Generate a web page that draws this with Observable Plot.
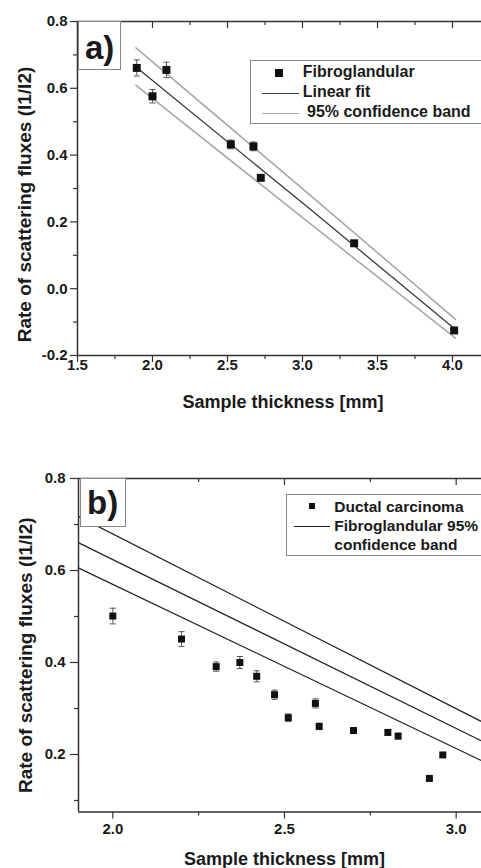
<!DOCTYPE html>
<html>
<head>
<meta charset="utf-8">
<script src="https://cdn.jsdelivr.net/npm/d3@7"></script>
<script src="https://cdn.jsdelivr.net/npm/@observablehq/plot@0.6"></script>
<style>
  html, body { margin: 0; padding: 0; overflow: hidden; background: #fff; }
  #wrap { position: relative; width: 481px; height: 868px; overflow: hidden; background: #fff;
          font-family: "Liberation Sans", Arial, sans-serif; font-weight: bold; color: #1a1a1a; }
  .abs { position: absolute; white-space: nowrap; line-height: 1; }
  .tag { position: absolute; background: #fff; border: 1px solid #888; box-sizing: border-box; }
  .legend { position: absolute; background: #fff; border: 1px solid #888; box-sizing: border-box; }
  #wrap svg { max-width: none !important; }
</style>
</head>
<body>
<div id="wrap">
  <div id="pa" class="abs" style="left:0;top:0"></div>
  <div id="pb" class="abs" style="left:0;top:440px"></div>

  <div class="tag" style="left:78px;top:21px;width:43px;height:49px"></div>
  <div class="abs" style="left:85px;top:31.4px;font-size:33px">a)</div>

  <div class="legend" style="left:250px;top:60px;width:260px;height:64px"></div>
  <div class="abs" style="left:275px;top:68.7px;width:8px;height:8px;background:#111"></div>
  <div class="abs" style="left:302.7px;top:63.8px;font-size:16px">Fibroglandular</div>
  <div class="abs" style="left:262px;top:92.5px;width:37px;height:1.5px;background:#3a3a3a"></div>
  <div class="abs" style="left:302.7px;top:83.8px;font-size:16px">Linear fit</div>
  <div class="abs" style="left:262px;top:112.5px;width:37px;height:1.5px;background:#a8a8a8"></div>
  <div class="abs" style="left:307px;top:103.8px;font-size:16px">95% confidence band</div>

  <div class="tag" style="left:80px;top:478px;width:46px;height:49px"></div>
  <div class="abs" style="left:87px;top:486.4px;font-size:33px">b)</div>

  <div class="legend" style="left:286px;top:494px;width:260px;height:62px"></div>
  <div class="abs" style="left:309.3px;top:503px;width:6px;height:6px;background:#111"></div>
  <div class="abs" style="left:334.3px;top:498.6px;font-size:15.5px">Ductal carcinoma</div>
  <div class="abs" style="left:294px;top:526px;width:36px;height:1.3px;background:#222"></div>
  <div class="abs" style="left:334.3px;top:517.9px;font-size:15.5px">Fibroglandular 95%</div>
  <div class="abs" style="left:334.3px;top:536.9px;font-size:15.5px">confidence band</div>
</div>
<script>
// ---- Data ----
const fibroX   = [1.895, 2.0, 2.093, 2.522, 2.673, 2.722, 3.344, 4.011];
const fibroY   = [0.661, 0.576, 0.655, 0.432, 0.426, 0.332, 0.136, -0.125];
const fibroErr = [0.024, 0.020, 0.023, 0.013, 0.013, 0.008, 0.006, 0.005];

const bandX     = [1.89, 3.07, 4.02];
const bandUpper = [0.721, 0.273, -0.092];
const bandFit   = [0.664, 0.231, -0.122];
const bandLower = [0.609, 0.188, -0.148];

const ductalX   = [2.0, 2.2, 2.301, 2.37, 2.419, 2.471, 2.511, 2.59, 2.601, 2.701, 2.801, 2.831, 2.922, 2.961];
const ductalY   = [0.501, 0.451, 0.391, 0.400, 0.370, 0.330, 0.280, 0.311, 0.261, 0.252, 0.248, 0.240, 0.148, 0.199];
const ductalErr = [0.017, 0.016, 0.010, 0.013, 0.012, 0.010, 0.008, 0.010, 0.007, 0.006, 0.006, 0.006, 0.005, 0.005];

const xMajorA = [1.5, 2.0, 2.5, 3.0, 3.5, 4.0];
const xMinorA = [1.75, 2.25, 2.75, 3.25, 3.75];
const yMajorA = [-0.2, 0.0, 0.2, 0.4, 0.6, 0.8];
const yMinorA = [-0.1, 0.1, 0.3, 0.5, 0.7];

const xMajorB = [2.0, 2.5, 3.0];
const xMinorB = [2.25, 2.75];
const yMajorB = [0.2, 0.4, 0.6, 0.8];
const yMinorB = [0.1, 0.3, 0.5, 0.7];

const xTitle = "Sample thickness [mm]";
const yTitle = "Rate of scattering fluxes (I1/I2)";

// ---- Tables ----
const fibro = fibroX.map((x, i) => ({x, y: fibroY[i], e: fibroErr[i]}));
const ductal = ductalX.map((x, i) => ({x, y: ductalY[i], e: ductalErr[i]}));
const band = bandX.map((x, i) => ({x, upper: bandUpper[i], fit: bandFit[i], lower: bandLower[i]}));

const cap = {draw(ctx) { ctx.moveTo(-3, 0); ctx.lineTo(3, 0); }};
const fmt = d => d.toFixed(1);
const AX = "#333";
const font = "'Liberation Sans', Arial, sans-serif";
const lab = {fontSize: 15, fontWeight: "bold", fill: "#1a1a1a"};

function frameRules(xd, yd) {
  return [
    Plot.ruleY([yd[0]], {stroke: AX, strokeWidth: 1.5}),
    Plot.ruleY([yd[1]], {stroke: AX, strokeWidth: 1.5}),
    Plot.ruleX([xd[0]], {stroke: AX, strokeWidth: 1.5}),
    Plot.ruleX([xd[1]], {stroke: AX, strokeWidth: 1.5})
  ];
}

function axes(xMaj, xMin, yMaj, yMin, ph, xLabDy, yLabDx, yTick) {
  return [
    Plot.tickX(xMaj, {x: d => d, insetBottom: ph - 7, stroke: AX, strokeWidth: 1.2}),
    Plot.tickX(xMin, {x: d => d, insetBottom: ph - 4, stroke: AX, strokeWidth: 1.2}),
    Plot.axisX(xMaj, {anchor: "bottom", tickSize: 7, tickFormat: () => "", label: null, strokeWidth: 1.2, stroke: AX}),
    Plot.axisX(xMin, {anchor: "bottom", tickSize: 4, tickFormat: () => "", label: null, strokeWidth: 1.2, stroke: AX}),
    Plot.axisY(yMaj, {anchor: "left", tickSize: yTick, tickFormat: () => "", label: null, strokeWidth: 1.2, stroke: AX}),
    Plot.axisY(yMin, {anchor: "left", tickSize: 4, tickFormat: () => "", label: null, strokeWidth: 1.2, stroke: AX}),
    Plot.text(xMaj, {x: d => d, text: fmt, frameAnchor: "bottom", lineAnchor: "top", textAnchor: "middle", dy: xLabDy, ...lab}),
    Plot.text(yMaj, {y: d => d, text: fmt, frameAnchor: "left", lineAnchor: "middle", textAnchor: "end", dx: yLabDx, ...lab})
  ];
}

// ---- Panel a ----
{
  const xd = [1.5, 4.2], yd = [-0.2, 0.8];
  const H = 420, mt = 21, mb = 65, ph = H - mt - mb;
  const chart = Plot.plot({
    width: 492, height: H, marginLeft: 77, marginRight: 10, marginTop: mt, marginBottom: mb,
    x: {domain: xd}, y: {domain: yd},
    style: {fontFamily: font, fontSize: "15px", fontWeight: "bold", color: "#1a1a1a", background: "transparent", overflow: "visible"},
    marks: [
      Plot.line(band, {x: "x", y: "upper", stroke: "#a8a8a8", strokeWidth: 1.6}),
      Plot.line(band, {x: "x", y: "lower", stroke: "#a8a8a8", strokeWidth: 1.6}),
      Plot.line(band, {x: "x", y: "fit", stroke: "#3a3a3a", strokeWidth: 1.3}),
      Plot.ruleX(fibro, {x: "x", y1: d => d.y - d.e, y2: d => d.y + d.e, stroke: "#555", strokeWidth: 1}),
      Plot.dot(fibro, {x: "x", y: d => d.y + d.e, symbol: cap, fill: "none", stroke: "#555", strokeWidth: 1}),
      Plot.dot(fibro, {x: "x", y: d => d.y - d.e, symbol: cap, fill: "none", stroke: "#555", strokeWidth: 1}),
      Plot.dot(fibro, {x: "x", y: "y", symbol: "square", r: 4.5, fill: "#111", stroke: "none"}),
      ...frameRules(xd, yd),
      ...axes(xMajorA, xMinorA, yMajorA, yMinorA, ph, 4, -10, 7),
      Plot.text([xTitle], {frameAnchor: "bottom", textAnchor: "middle", lineAnchor: "middle", dy: 47, dx: 3, fontSize: 18, fontWeight: "bold"}),
      Plot.text([yTitle], {frameAnchor: "left", textAnchor: "middle", lineAnchor: "middle", rotate: -90, dx: -53, dy: 16, fontSize: 19, fontWeight: "bold"})
    ]
  });
  document.getElementById("pa").append(chart);
}

// ---- Panel b ----
{
  const xd = [1.9, 3.1], yd = [0.075, 0.8];
  const H = 428, mt = 38, mb = 56.5, ph = H - mt - mb;
  const chart = Plot.plot({
    width: 500, height: H, marginLeft: 78, marginRight: 10, marginTop: mt, marginBottom: mb,
    x: {domain: xd}, y: {domain: yd},
    style: {fontFamily: font, fontSize: "15px", fontWeight: "bold", color: "#1a1a1a", background: "transparent", overflow: "visible"},
    marks: [
      Plot.line(band, {x: "x", y: "upper", stroke: "#222", strokeWidth: 1.3, clip: true}),
      Plot.line(band, {x: "x", y: "fit", stroke: "#222", strokeWidth: 1.3, clip: true}),
      Plot.line(band, {x: "x", y: "lower", stroke: "#222", strokeWidth: 1.3, clip: true}),
      Plot.ruleX(ductal, {x: "x", y1: d => d.y - d.e, y2: d => d.y + d.e, stroke: "#555", strokeWidth: 1}),
      Plot.dot(ductal, {x: "x", y: d => d.y + d.e, symbol: cap, fill: "none", stroke: "#555", strokeWidth: 1}),
      Plot.dot(ductal, {x: "x", y: d => d.y - d.e, symbol: cap, fill: "none", stroke: "#555", strokeWidth: 1}),
      Plot.dot(ductal, {x: "x", y: "y", symbol: "square", r: 3.95, fill: "#111", stroke: "none"}),
      ...frameRules(xd, yd),
      ...axes(xMajorB, xMinorB, yMajorB, yMinorB, ph, 11.5, -13, 8),
      Plot.text([xTitle], {frameAnchor: "bottom", textAnchor: "middle", lineAnchor: "middle", dy: 47, fontSize: 18, fontWeight: "bold"}),
      Plot.text([yTitle], {frameAnchor: "left", textAnchor: "middle", lineAnchor: "middle", rotate: -90, dx: -53, dy: 10, fontSize: 19, fontWeight: "bold"})
    ]
  });
  document.getElementById("pb").append(chart);
}
</script>
</body>
</html>
